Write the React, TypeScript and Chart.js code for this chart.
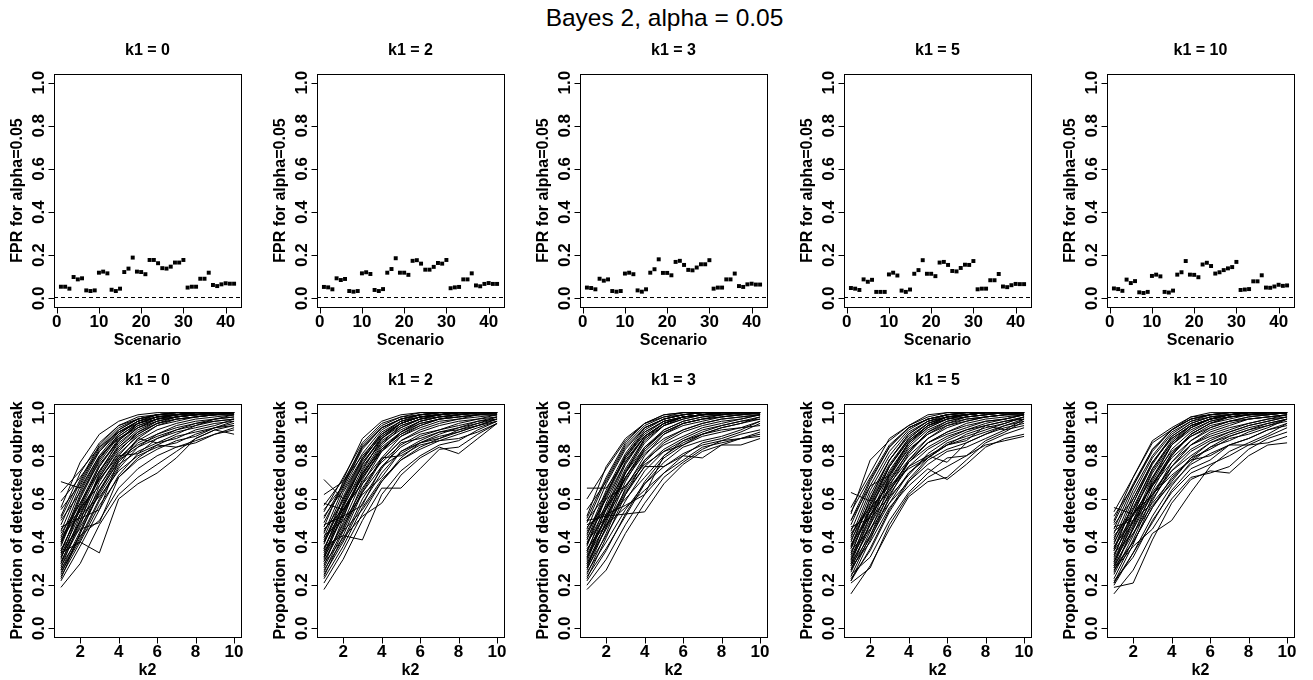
import React, { useEffect, useRef } from "react";
import { Chart, registerables } from "chart.js";

Chart.register(...registerables);

// ---------- text ----------
const mainTitle = "Bayes 2, alpha = 0.05";
const k1Labels = ["k1 = 0", "k1 = 2", "k1 = 3", "k1 = 5", "k1 = 10"];
const topXTitle = "Scenario";
const topYTitle = "FPR for alpha=0.05";
const bottomXTitle = "k2";
const bottomYTitle = "Proportion of detected oubreak";

// ---------- categories / ticks ----------
const scenarios = [1, 2, 3, 4, 5, 6, 7, 8, 9, 10, 11, 12, 13, 14, 15, 16, 17, 18, 19, 20, 21, 22, 23, 24, 25, 26, 27, 28, 29, 30, 31, 32, 33, 34, 35, 36, 37, 38, 39, 40, 41, 42];
const k2Values = [1, 2, 3, 4, 5, 6, 7, 8, 9, 10];
const scenarioTicks = [0, 10, 20, 30, 40];
const fprTicks = [0, 0.2, 0.4, 0.6, 0.8, 1.0];
const k2Ticks = [2, 4, 6, 8, 10];
const propTicks = [0, 0.2, 0.4, 0.6, 0.8, 1.0];
const fprReferenceLine = 0.005;

// ---------- FPR per scenario ----------
const fprK1_0 = [0.054, 0.054, 0.045, 0.099, 0.088, 0.093, 0.037, 0.034, 0.037, 0.119, 0.124, 0.116, 0.040, 0.034, 0.045, 0.122, 0.138, 0.189, 0.124, 0.122, 0.112, 0.178, 0.178, 0.163, 0.140, 0.138, 0.147, 0.166, 0.166, 0.178, 0.050, 0.054, 0.054, 0.091, 0.091, 0.119, 0.062, 0.057, 0.065, 0.070, 0.068, 0.068];
const fprK1_2 = [0.053, 0.051, 0.042, 0.093, 0.085, 0.090, 0.034, 0.031, 0.034, 0.116, 0.121, 0.113, 0.039, 0.034, 0.043, 0.119, 0.136, 0.186, 0.119, 0.119, 0.109, 0.174, 0.177, 0.161, 0.133, 0.133, 0.146, 0.164, 0.161, 0.178, 0.047, 0.051, 0.053, 0.088, 0.088, 0.116, 0.060, 0.056, 0.067, 0.071, 0.067, 0.067];
const fprK1_3 = [0.050, 0.048, 0.042, 0.091, 0.082, 0.088, 0.034, 0.031, 0.034, 0.115, 0.119, 0.112, 0.037, 0.031, 0.042, 0.119, 0.135, 0.181, 0.118, 0.118, 0.107, 0.169, 0.174, 0.155, 0.132, 0.130, 0.143, 0.158, 0.158, 0.177, 0.045, 0.050, 0.050, 0.088, 0.088, 0.115, 0.057, 0.053, 0.065, 0.068, 0.064, 0.064];
const fprK1_5 = [0.048, 0.045, 0.039, 0.088, 0.077, 0.086, 0.030, 0.030, 0.030, 0.111, 0.119, 0.106, 0.036, 0.030, 0.041, 0.114, 0.131, 0.177, 0.114, 0.114, 0.103, 0.166, 0.169, 0.155, 0.127, 0.125, 0.141, 0.156, 0.155, 0.173, 0.042, 0.045, 0.045, 0.084, 0.084, 0.113, 0.055, 0.052, 0.061, 0.067, 0.066, 0.066];
const fprK1_10 = [0.046, 0.043, 0.035, 0.087, 0.071, 0.080, 0.028, 0.025, 0.030, 0.104, 0.110, 0.102, 0.030, 0.027, 0.036, 0.110, 0.121, 0.173, 0.110, 0.109, 0.098, 0.157, 0.165, 0.150, 0.115, 0.121, 0.131, 0.139, 0.145, 0.169, 0.039, 0.041, 0.043, 0.079, 0.079, 0.107, 0.050, 0.049, 0.055, 0.063, 0.058, 0.060];

// ---------- proportion detected, one row per scenario, columns k2 = 1..10 ----------
const detK1_0 = [
  [0.45, 0.66, 0.82, 0.92, 0.97, 0.99, 1.00, 1.00, 1.00, 1.00],
  [0.38, 0.60, 0.78, 0.90, 0.96, 0.99, 0.99, 1.00, 1.00, 1.00],
  [0.52, 0.72, 0.86, 0.94, 0.98, 0.99, 1.00, 1.00, 1.00, 1.00],
  [0.30, 0.52, 0.71, 0.85, 0.93, 0.97, 0.99, 0.99, 1.00, 1.00],
  [0.27, 0.45, 0.66, 0.80, 0.90, 0.95, 0.98, 0.99, 1.00, 1.00],
  [0.56, 0.77, 0.90, 0.96, 0.99, 1.00, 1.00, 1.00, 1.00, 1.00],
  [0.42, 0.64, 0.80, 0.91, 0.96, 0.98, 0.99, 1.00, 1.00, 1.00],
  [0.35, 0.57, 0.75, 0.88, 0.94, 0.97, 0.99, 1.00, 1.00, 1.00],
  [0.33, 0.50, 0.70, 0.84, 0.92, 0.96, 0.98, 0.99, 0.99, 1.00],
  [0.48, 0.68, 0.84, 0.93, 0.97, 0.99, 1.00, 1.00, 1.00, 1.00],
  [0.40, 0.62, 0.77, 0.89, 0.95, 0.98, 0.99, 1.00, 1.00, 1.00],
  [0.25, 0.44, 0.63, 0.78, 0.88, 0.94, 0.97, 0.98, 0.99, 1.00],
  [0.59, 0.70, 0.82, 0.91, 0.96, 0.98, 0.99, 1.00, 1.00, 1.00],
  [0.36, 0.55, 0.73, 0.86, 0.93, 0.97, 0.98, 0.99, 1.00, 1.00],
  [0.44, 0.58, 0.76, 0.87, 0.94, 0.97, 0.99, 0.99, 1.00, 1.00],
  [0.31, 0.48, 0.68, 0.82, 0.91, 0.96, 0.98, 0.99, 1.00, 1.00],
  [0.50, 0.63, 0.79, 0.89, 0.95, 0.98, 0.99, 1.00, 1.00, 1.00],
  [0.28, 0.50, 0.72, 0.87, 0.95, 0.98, 0.99, 1.00, 1.00, 1.00],
  [0.41, 0.58, 0.73, 0.84, 0.91, 0.95, 0.97, 0.98, 0.99, 0.99],
  [0.46, 0.54, 0.69, 0.81, 0.89, 0.94, 0.96, 0.98, 0.99, 0.99],
  [0.34, 0.53, 0.70, 0.83, 0.90, 0.95, 0.97, 0.98, 0.99, 1.00],
  [0.55, 0.67, 0.83, 0.92, 0.97, 0.99, 1.00, 1.00, 1.00, 1.00],
  [0.39, 0.61, 0.79, 0.90, 0.96, 0.99, 0.99, 1.00, 1.00, 1.00],
  [0.32, 0.56, 0.75, 0.87, 0.95, 0.98, 0.99, 1.00, 1.00, 1.00],
  [0.26, 0.41, 0.59, 0.74, 0.84, 0.90, 0.94, 0.96, 0.97, 0.98],
  [0.22, 0.38, 0.55, 0.71, 0.81, 0.88, 0.92, 0.95, 0.96, 0.97],
  [0.68, 0.65, 0.80, 0.88, 0.93, 0.96, 0.98, 0.99, 0.99, 1.00],
  [0.63, 0.73, 0.84, 0.91, 0.95, 0.97, 0.98, 0.99, 1.00, 1.00],
  [0.19, 0.30, 0.48, 0.62, 0.70, 0.76, 0.82, 0.88, 0.92, 0.94],
  [0.35, 0.40, 0.35, 0.60, 0.67, 0.72, 0.79, 0.88, 0.92, 0.90],
  [0.29, 0.43, 0.50, 0.65, 0.74, 0.80, 0.84, 0.86, 0.90, 0.92],
  [0.37, 0.46, 0.49, 0.70, 0.78, 0.83, 0.87, 0.89, 0.93, 0.95],
  [0.43, 0.52, 0.61, 0.73, 0.80, 0.84, 0.86, 0.90, 0.93, 0.94],
  [0.24, 0.40, 0.57, 0.70, 0.79, 0.85, 0.89, 0.91, 0.93, 0.96],
  [0.30, 0.47, 0.62, 0.76, 0.82, 0.86, 0.88, 0.92, 0.94, 0.97],
  [0.47, 0.51, 0.55, 0.78, 0.84, 0.88, 0.91, 0.93, 0.95, 0.96],
  [0.33, 0.49, 0.64, 0.77, 0.86, 0.90, 0.93, 0.95, 0.97, 0.98],
  [0.27, 0.42, 0.60, 0.75, 0.88, 0.86, 0.90, 0.94, 0.96, 0.97],
  [0.36, 0.55, 0.69, 0.80, 0.81, 0.85, 0.84, 0.87, 0.90, 0.93],
  [0.40, 0.56, 0.66, 0.79, 0.85, 0.89, 0.92, 0.94, 0.97, 0.99],
  [0.23, 0.44, 0.64, 0.79, 0.87, 0.92, 0.95, 0.97, 0.98, 0.99],
  [0.51, 0.69, 0.85, 0.94, 0.97, 0.99, 1.00, 1.00, 1.00, 1.00],
];

const detK1_2 = [
  [0.47, 0.68, 0.84, 0.93, 0.97, 0.99, 1.00, 1.00, 1.00, 1.00],
  [0.40, 0.61, 0.79, 0.91, 0.96, 0.99, 0.99, 1.00, 1.00, 1.00],
  [0.54, 0.70, 0.86, 0.95, 0.98, 1.00, 1.00, 1.00, 1.00, 1.00],
  [0.32, 0.54, 0.72, 0.86, 0.94, 0.97, 0.99, 1.00, 1.00, 1.00],
  [0.28, 0.46, 0.67, 0.82, 0.91, 0.96, 0.98, 0.99, 1.00, 1.00],
  [0.57, 0.69, 0.88, 0.96, 0.99, 1.00, 1.00, 1.00, 1.00, 1.00],
  [0.44, 0.65, 0.81, 0.92, 0.97, 0.99, 1.00, 1.00, 1.00, 1.00],
  [0.36, 0.58, 0.76, 0.89, 0.95, 0.98, 0.99, 1.00, 1.00, 1.00],
  [0.34, 0.52, 0.71, 0.85, 0.93, 0.97, 0.98, 0.99, 1.00, 1.00],
  [0.49, 0.66, 0.83, 0.93, 0.97, 0.99, 1.00, 1.00, 1.00, 1.00],
  [0.42, 0.63, 0.78, 0.90, 0.95, 0.98, 0.99, 1.00, 1.00, 1.00],
  [0.26, 0.45, 0.64, 0.79, 0.89, 0.94, 0.97, 0.98, 0.99, 1.00],
  [0.62, 0.68, 0.80, 0.90, 0.96, 0.98, 0.99, 1.00, 1.00, 1.00],
  [0.37, 0.56, 0.74, 0.87, 0.93, 0.97, 0.99, 0.99, 1.00, 1.00],
  [0.45, 0.59, 0.77, 0.88, 0.94, 0.97, 0.99, 1.00, 1.00, 1.00],
  [0.31, 0.49, 0.69, 0.83, 0.91, 0.96, 0.98, 0.99, 1.00, 1.00],
  [0.52, 0.64, 0.79, 0.89, 0.95, 0.98, 0.99, 1.00, 1.00, 1.00],
  [0.29, 0.51, 0.73, 0.88, 0.95, 0.98, 0.99, 1.00, 1.00, 1.00],
  [0.41, 0.57, 0.72, 0.83, 0.90, 0.94, 0.97, 0.98, 0.99, 0.99],
  [0.46, 0.55, 0.70, 0.82, 0.89, 0.93, 0.96, 0.97, 0.99, 0.99],
  [0.35, 0.53, 0.71, 0.84, 0.91, 0.95, 0.97, 0.98, 0.99, 1.00],
  [0.55, 0.66, 0.84, 0.93, 0.97, 0.99, 1.00, 1.00, 1.00, 1.00],
  [0.39, 0.60, 0.78, 0.90, 0.96, 0.98, 0.99, 1.00, 1.00, 1.00],
  [0.33, 0.57, 0.76, 0.88, 0.95, 0.98, 0.99, 1.00, 1.00, 1.00],
  [0.25, 0.40, 0.58, 0.72, 0.82, 0.87, 0.91, 0.92, 0.95, 0.97],
  [0.21, 0.36, 0.53, 0.68, 0.79, 0.86, 0.89, 0.91, 0.94, 0.96],
  [0.69, 0.60, 0.75, 0.86, 0.92, 0.96, 0.98, 0.99, 1.00, 1.00],
  [0.58, 0.55, 0.70, 0.83, 0.90, 0.95, 0.97, 0.99, 0.99, 1.00],
  [0.18, 0.32, 0.50, 0.65, 0.65, 0.74, 0.83, 0.84, 0.90, 0.95],
  [0.38, 0.43, 0.41, 0.62, 0.73, 0.80, 0.85, 0.87, 0.92, 0.96],
  [0.30, 0.42, 0.52, 0.58, 0.71, 0.79, 0.84, 0.81, 0.88, 0.95],
  [0.36, 0.45, 0.55, 0.68, 0.78, 0.83, 0.87, 0.90, 0.93, 0.96],
  [0.43, 0.50, 0.62, 0.70, 0.82, 0.86, 0.88, 0.91, 0.94, 0.97],
  [0.23, 0.38, 0.56, 0.69, 0.78, 0.84, 0.88, 0.92, 0.94, 0.97],
  [0.31, 0.47, 0.63, 0.75, 0.81, 0.86, 0.90, 0.93, 0.95, 0.98],
  [0.48, 0.52, 0.57, 0.75, 0.84, 0.89, 0.92, 0.94, 0.96, 0.97],
  [0.33, 0.48, 0.65, 0.78, 0.87, 0.91, 0.94, 0.96, 0.97, 0.98],
  [0.27, 0.41, 0.60, 0.74, 0.86, 0.88, 0.91, 0.93, 0.96, 0.98],
  [0.37, 0.54, 0.68, 0.79, 0.80, 0.85, 0.87, 0.88, 0.91, 0.95],
  [0.40, 0.55, 0.67, 0.77, 0.85, 0.90, 0.92, 0.95, 0.97, 0.99],
  [0.24, 0.43, 0.63, 0.78, 0.87, 0.92, 0.95, 0.97, 0.98, 0.99],
  [0.51, 0.67, 0.85, 0.94, 0.98, 0.99, 1.00, 1.00, 1.00, 1.00],
];

const detK1_3 = [
  [0.46, 0.67, 0.83, 0.93, 0.97, 0.99, 1.00, 1.00, 1.00, 1.00],
  [0.39, 0.62, 0.80, 0.92, 0.97, 0.99, 1.00, 1.00, 1.00, 1.00],
  [0.52, 0.75, 0.88, 0.95, 0.99, 1.00, 1.00, 1.00, 1.00, 1.00],
  [0.31, 0.53, 0.73, 0.87, 0.94, 0.98, 0.99, 1.00, 1.00, 1.00],
  [0.27, 0.47, 0.68, 0.83, 0.92, 0.96, 0.98, 0.99, 1.00, 1.00],
  [0.60, 0.74, 0.87, 0.95, 0.99, 1.00, 1.00, 1.00, 1.00, 1.00],
  [0.43, 0.64, 0.81, 0.93, 0.97, 0.99, 1.00, 1.00, 1.00, 1.00],
  [0.35, 0.58, 0.77, 0.89, 0.95, 0.98, 0.99, 1.00, 1.00, 1.00],
  [0.33, 0.51, 0.72, 0.86, 0.94, 0.97, 0.99, 0.99, 1.00, 1.00],
  [0.49, 0.69, 0.85, 0.94, 0.98, 0.99, 1.00, 1.00, 1.00, 1.00],
  [0.41, 0.63, 0.79, 0.90, 0.96, 0.98, 0.99, 1.00, 1.00, 1.00],
  [0.25, 0.44, 0.65, 0.80, 0.90, 0.95, 0.97, 0.99, 0.99, 1.00],
  [0.65, 0.65, 0.78, 0.89, 0.95, 0.98, 0.99, 1.00, 1.00, 1.00],
  [0.36, 0.55, 0.74, 0.88, 0.94, 0.97, 0.99, 0.99, 1.00, 1.00],
  [0.44, 0.60, 0.77, 0.89, 0.95, 0.98, 0.99, 1.00, 1.00, 1.00],
  [0.30, 0.49, 0.70, 0.84, 0.92, 0.96, 0.98, 0.99, 1.00, 1.00],
  [0.50, 0.62, 0.80, 0.91, 0.96, 0.98, 0.99, 1.00, 1.00, 1.00],
  [0.28, 0.50, 0.72, 0.88, 0.95, 0.98, 0.99, 1.00, 1.00, 1.00],
  [0.42, 0.57, 0.72, 0.84, 0.91, 0.95, 0.97, 0.98, 0.99, 1.00],
  [0.47, 0.55, 0.70, 0.82, 0.90, 0.94, 0.96, 0.98, 0.99, 0.99],
  [0.34, 0.52, 0.70, 0.83, 0.91, 0.95, 0.97, 0.98, 0.99, 1.00],
  [0.55, 0.68, 0.84, 0.93, 0.97, 0.99, 1.00, 1.00, 1.00, 1.00],
  [0.38, 0.61, 0.79, 0.91, 0.96, 0.98, 0.99, 1.00, 1.00, 1.00],
  [0.32, 0.56, 0.76, 0.89, 0.95, 0.98, 0.99, 1.00, 1.00, 1.00],
  [0.24, 0.37, 0.52, 0.67, 0.75, 0.81, 0.85, 0.87, 0.88, 0.90],
  [0.20, 0.32, 0.48, 0.62, 0.72, 0.78, 0.84, 0.86, 0.88, 0.89],
  [0.50, 0.52, 0.53, 0.54, 0.67, 0.76, 0.82, 0.85, 0.85, 0.88],
  [0.29, 0.47, 0.63, 0.75, 0.75, 0.80, 0.79, 0.85, 0.88, 0.91],
  [0.18, 0.27, 0.44, 0.58, 0.70, 0.77, 0.83, 0.87, 0.90, 0.92],
  [0.37, 0.48, 0.56, 0.64, 0.72, 0.80, 0.86, 0.88, 0.91, 0.95],
  [0.26, 0.40, 0.55, 0.67, 0.77, 0.84, 0.87, 0.89, 0.92, 0.96],
  [0.36, 0.51, 0.60, 0.70, 0.80, 0.86, 0.90, 0.93, 0.95, 0.97],
  [0.45, 0.60, 0.66, 0.76, 0.82, 0.85, 0.89, 0.91, 0.93, 0.96],
  [0.22, 0.36, 0.53, 0.68, 0.79, 0.85, 0.90, 0.93, 0.95, 0.98],
  [0.30, 0.46, 0.62, 0.75, 0.83, 0.88, 0.92, 0.94, 0.96, 0.98],
  [0.48, 0.53, 0.57, 0.62, 0.80, 0.87, 0.91, 0.94, 0.96, 0.97],
  [0.33, 0.48, 0.64, 0.77, 0.86, 0.91, 0.94, 0.96, 0.97, 0.99],
  [0.28, 0.43, 0.59, 0.73, 0.82, 0.87, 0.90, 0.92, 0.93, 0.94],
  [0.39, 0.56, 0.69, 0.81, 0.88, 0.92, 0.95, 0.97, 0.98, 0.99],
  [0.40, 0.52, 0.66, 0.78, 0.85, 0.89, 0.93, 0.95, 0.97, 0.99],
  [0.23, 0.42, 0.62, 0.78, 0.87, 0.92, 0.95, 0.97, 0.98, 0.99],
  [0.51, 0.70, 0.86, 0.95, 0.98, 1.00, 1.00, 1.00, 1.00, 1.00],
];

const detK1_5 = [
  [0.45, 0.66, 0.82, 0.92, 0.97, 0.99, 1.00, 1.00, 1.00, 1.00],
  [0.38, 0.60, 0.78, 0.90, 0.96, 0.98, 0.99, 1.00, 1.00, 1.00],
  [0.53, 0.78, 0.87, 0.94, 0.98, 1.00, 1.00, 1.00, 1.00, 1.00],
  [0.30, 0.52, 0.72, 0.86, 0.94, 0.97, 0.99, 1.00, 1.00, 1.00],
  [0.26, 0.45, 0.66, 0.81, 0.91, 0.96, 0.98, 0.99, 1.00, 1.00],
  [0.56, 0.72, 0.88, 0.94, 0.99, 1.00, 1.00, 1.00, 1.00, 1.00],
  [0.42, 0.64, 0.80, 0.91, 0.96, 0.99, 0.99, 1.00, 1.00, 1.00],
  [0.34, 0.57, 0.75, 0.88, 0.95, 0.98, 0.99, 1.00, 1.00, 1.00],
  [0.32, 0.50, 0.70, 0.84, 0.92, 0.96, 0.98, 0.99, 1.00, 1.00],
  [0.48, 0.68, 0.84, 0.93, 0.97, 0.99, 1.00, 1.00, 1.00, 1.00],
  [0.40, 0.62, 0.78, 0.89, 0.95, 0.98, 0.99, 1.00, 1.00, 1.00],
  [0.24, 0.43, 0.63, 0.78, 0.88, 0.94, 0.97, 0.98, 0.99, 1.00],
  [0.63, 0.59, 0.76, 0.88, 0.95, 0.98, 0.99, 1.00, 1.00, 1.00],
  [0.35, 0.55, 0.73, 0.86, 0.93, 0.97, 0.98, 0.99, 1.00, 1.00],
  [0.43, 0.58, 0.75, 0.87, 0.94, 0.97, 0.99, 1.00, 1.00, 1.00],
  [0.29, 0.48, 0.68, 0.82, 0.91, 0.95, 0.98, 0.99, 1.00, 1.00],
  [0.50, 0.66, 0.71, 0.85, 0.93, 0.97, 0.99, 1.00, 1.00, 1.00],
  [0.27, 0.49, 0.71, 0.86, 0.94, 0.98, 0.99, 1.00, 1.00, 1.00],
  [0.41, 0.57, 0.71, 0.83, 0.90, 0.94, 0.96, 0.98, 0.99, 0.99],
  [0.46, 0.54, 0.68, 0.80, 0.88, 0.93, 0.96, 0.98, 0.99, 0.99],
  [0.33, 0.52, 0.69, 0.82, 0.90, 0.95, 0.97, 0.98, 0.99, 1.00],
  [0.54, 0.70, 0.85, 0.93, 0.97, 0.99, 1.00, 1.00, 1.00, 1.00],
  [0.37, 0.60, 0.78, 0.90, 0.96, 0.98, 0.99, 1.00, 1.00, 1.00],
  [0.31, 0.55, 0.75, 0.87, 0.94, 0.98, 0.99, 1.00, 1.00, 1.00],
  [0.23, 0.36, 0.54, 0.68, 0.76, 0.82, 0.84, 0.88, 0.92, 0.94],
  [0.21, 0.28, 0.48, 0.62, 0.70, 0.75, 0.80, 0.85, 0.87, 0.89],
  [0.16, 0.29, 0.46, 0.61, 0.68, 0.70, 0.78, 0.86, 0.90, 0.93],
  [0.28, 0.40, 0.56, 0.66, 0.74, 0.69, 0.76, 0.84, 0.88, 0.90],
  [0.25, 0.33, 0.50, 0.63, 0.72, 0.79, 0.80, 0.87, 0.91, 0.96],
  [0.36, 0.46, 0.58, 0.68, 0.78, 0.83, 0.86, 0.90, 0.93, 0.95],
  [0.29, 0.43, 0.60, 0.72, 0.79, 0.85, 0.87, 0.94, 0.92, 0.97],
  [0.37, 0.53, 0.64, 0.75, 0.80, 0.85, 0.88, 0.91, 0.94, 0.97],
  [0.44, 0.56, 0.66, 0.74, 0.79, 0.86, 0.89, 0.92, 0.95, 0.98],
  [0.22, 0.37, 0.55, 0.69, 0.79, 0.85, 0.90, 0.93, 0.95, 0.98],
  [0.30, 0.46, 0.62, 0.75, 0.83, 0.88, 0.92, 0.94, 0.96, 0.98],
  [0.47, 0.51, 0.61, 0.71, 0.81, 0.87, 0.91, 0.94, 0.96, 0.97],
  [0.32, 0.48, 0.64, 0.77, 0.86, 0.91, 0.94, 0.96, 0.97, 0.99],
  [0.27, 0.42, 0.58, 0.72, 0.80, 0.77, 0.86, 0.90, 0.94, 0.96],
  [0.38, 0.55, 0.67, 0.78, 0.86, 0.90, 0.93, 0.96, 0.97, 0.99],
  [0.39, 0.52, 0.65, 0.77, 0.84, 0.89, 0.92, 0.95, 0.97, 0.99],
  [0.22, 0.41, 0.61, 0.77, 0.86, 0.91, 0.95, 0.97, 0.98, 0.99],
  [0.50, 0.69, 0.84, 0.93, 0.97, 0.99, 1.00, 1.00, 1.00, 1.00],
];

const detK1_10 = [
  [0.44, 0.64, 0.80, 0.91, 0.96, 0.99, 0.99, 1.00, 1.00, 1.00],
  [0.37, 0.58, 0.76, 0.89, 0.95, 0.98, 0.99, 1.00, 1.00, 1.00],
  [0.50, 0.70, 0.87, 0.93, 0.98, 0.99, 1.00, 1.00, 1.00, 1.00],
  [0.29, 0.50, 0.70, 0.85, 0.93, 0.97, 0.99, 0.99, 1.00, 1.00],
  [0.25, 0.43, 0.64, 0.80, 0.90, 0.95, 0.98, 0.99, 1.00, 1.00],
  [0.54, 0.70, 0.86, 0.92, 0.98, 1.00, 1.00, 1.00, 1.00, 1.00],
  [0.41, 0.62, 0.79, 0.90, 0.96, 0.98, 0.99, 1.00, 1.00, 1.00],
  [0.33, 0.55, 0.74, 0.87, 0.94, 0.97, 0.99, 1.00, 1.00, 1.00],
  [0.31, 0.48, 0.68, 0.83, 0.91, 0.96, 0.98, 0.99, 0.99, 1.00],
  [0.46, 0.66, 0.82, 0.92, 0.97, 0.99, 1.00, 1.00, 1.00, 1.00],
  [0.39, 0.60, 0.77, 0.88, 0.94, 0.97, 0.99, 1.00, 1.00, 1.00],
  [0.23, 0.41, 0.61, 0.77, 0.87, 0.93, 0.96, 0.98, 0.99, 1.00],
  [0.56, 0.53, 0.66, 0.80, 0.90, 0.95, 0.98, 0.99, 1.00, 1.00],
  [0.34, 0.53, 0.72, 0.85, 0.92, 0.96, 0.98, 0.99, 1.00, 1.00],
  [0.42, 0.56, 0.74, 0.86, 0.93, 0.97, 0.98, 0.99, 1.00, 1.00],
  [0.28, 0.46, 0.66, 0.81, 0.90, 0.95, 0.97, 0.99, 0.99, 1.00],
  [0.48, 0.60, 0.77, 0.88, 0.94, 0.97, 0.99, 1.00, 1.00, 1.00],
  [0.26, 0.47, 0.69, 0.85, 0.93, 0.97, 0.99, 1.00, 1.00, 1.00],
  [0.40, 0.55, 0.70, 0.82, 0.89, 0.93, 0.96, 0.97, 0.98, 0.99],
  [0.45, 0.52, 0.67, 0.79, 0.87, 0.92, 0.95, 0.97, 0.98, 0.99],
  [0.32, 0.50, 0.67, 0.81, 0.89, 0.94, 0.96, 0.98, 0.99, 1.00],
  [0.52, 0.66, 0.83, 0.92, 0.97, 0.99, 1.00, 1.00, 1.00, 1.00],
  [0.36, 0.58, 0.77, 0.89, 0.95, 0.98, 0.99, 1.00, 1.00, 1.00],
  [0.30, 0.53, 0.73, 0.86, 0.94, 0.97, 0.99, 1.00, 1.00, 1.00],
  [0.22, 0.33, 0.50, 0.63, 0.72, 0.76, 0.80, 0.85, 0.86, 0.89],
  [0.19, 0.21, 0.41, 0.58, 0.69, 0.73, 0.72, 0.80, 0.85, 0.86],
  [0.16, 0.27, 0.44, 0.50, 0.63, 0.75, 0.82, 0.86, 0.90, 0.95],
  [0.27, 0.38, 0.46, 0.60, 0.70, 0.72, 0.75, 0.83, 0.88, 0.91],
  [0.20, 0.35, 0.49, 0.64, 0.74, 0.78, 0.85, 0.85, 0.89, 0.93],
  [0.35, 0.44, 0.57, 0.67, 0.76, 0.81, 0.85, 0.88, 0.92, 0.95],
  [0.28, 0.40, 0.56, 0.68, 0.79, 0.83, 0.88, 0.90, 0.93, 0.97],
  [0.36, 0.49, 0.62, 0.71, 0.78, 0.84, 0.87, 0.91, 0.94, 0.97],
  [0.43, 0.53, 0.62, 0.73, 0.80, 0.86, 0.89, 0.92, 0.94, 0.96],
  [0.21, 0.35, 0.52, 0.66, 0.77, 0.84, 0.89, 0.92, 0.95, 0.97],
  [0.29, 0.44, 0.60, 0.73, 0.82, 0.87, 0.91, 0.94, 0.96, 0.98],
  [0.47, 0.50, 0.58, 0.69, 0.79, 0.86, 0.90, 0.93, 0.95, 0.97],
  [0.31, 0.46, 0.62, 0.75, 0.85, 0.90, 0.93, 0.95, 0.97, 0.98],
  [0.27, 0.40, 0.56, 0.70, 0.78, 0.80, 0.85, 0.88, 0.92, 0.94],
  [0.37, 0.53, 0.66, 0.77, 0.85, 0.89, 0.92, 0.95, 0.97, 0.99],
  [0.38, 0.50, 0.63, 0.75, 0.83, 0.88, 0.91, 0.94, 0.96, 0.98],
  [0.21, 0.39, 0.59, 0.75, 0.85, 0.91, 0.94, 0.97, 0.98, 0.99],
  [0.49, 0.67, 0.83, 0.92, 0.97, 0.99, 1.00, 1.00, 1.00, 1.00],
];

const fprPanels = [fprK1_0, fprK1_2, fprK1_3, fprK1_5, fprK1_10];
const detPanels = [detK1_0, detK1_2, detK1_3, detK1_5, detK1_10];

// ---------- layout ----------
const FIG_W = 1313;
const FIG_H = 680;
const CELL_STEP = 263.2;
const CANVAS_W = 263;
const CANVAS_H = 320;
const ROW_TOPS = [30, 360];
const PAD = { left: 54, right: CANVAS_W - 241, top: 44, bottom: 43 };
const FONT = '"Liberation Sans", Arial, Helvetica, sans-serif';
const TICK_PX = 17;
const LAB_PX = 16;

type AxisCfg = {
  title: string;
  xTitle: string;
  yTitle: string;
  xTicks: number[];
  yTicks: number[];
  refLine?: number;
};

function rAxesPlugin(cfg: AxisCfg) {
  return {
    id: "rAxes",
    beforeDatasetsDraw(chart: any) {
      if (cfg.refLine === undefined) return;
      const { ctx, chartArea: a, scales } = chart;
      const py = Math.round(scales.y.getPixelForValue(cfg.refLine)) + 0.5;
      ctx.save();
      ctx.strokeStyle = "#000";
      ctx.lineWidth = 1;
      ctx.setLineDash([4, 3]);
      ctx.beginPath();
      ctx.moveTo(a.left, py);
      ctx.lineTo(a.right, py);
      ctx.stroke();
      ctx.restore();
    },
    afterDraw(chart: any) {
      const { ctx, chartArea: a, scales } = chart;
      const xs = scales.x;
      const ys = scales.y;
      ctx.save();
      ctx.strokeStyle = "#000";
      ctx.fillStyle = "#000";
      ctx.lineWidth = 1;
      const L = Math.round(a.left) + 0.5;
      const R = Math.round(a.right) + 0.5;
      const T = Math.round(a.top) + 0.5;
      const B = Math.round(a.bottom) + 0.5;
      ctx.strokeRect(L, T, R - L, B - T);

      ctx.beginPath();
      cfg.xTicks.forEach((t) => {
        const px = Math.round(xs.getPixelForValue(t)) + 0.5;
        ctx.moveTo(px, B);
        ctx.lineTo(px, B + 6);
      });
      cfg.yTicks.forEach((t) => {
        const py = Math.round(ys.getPixelForValue(t)) + 0.5;
        ctx.moveTo(L, py);
        ctx.lineTo(L - 6, py);
      });
      ctx.stroke();

      ctx.textAlign = "center";
      ctx.textBaseline = "middle";
      ctx.font = `bold ${TICK_PX}px ${FONT}`;
      cfg.xTicks.forEach((t) => {
        ctx.fillText(String(t), xs.getPixelForValue(t), a.bottom + 15);
      });
      cfg.yTicks.forEach((t) => {
        ctx.save();
        ctx.translate(a.left - 15, ys.getPixelForValue(t));
        ctx.rotate(-Math.PI / 2);
        ctx.fillText(t.toFixed(1), 0, 0);
        ctx.restore();
      });

      ctx.font = `bold ${LAB_PX}px ${FONT}`;
      ctx.fillText(cfg.xTitle, (a.left + a.right) / 2, a.bottom + 34);
      ctx.save();
      ctx.translate(a.left - 36, (a.top + a.bottom) / 2);
      ctx.rotate(-Math.PI / 2);
      ctx.fillText(cfg.yTitle, 0, 0);
      ctx.restore();

      ctx.fillText(cfg.title, (a.left + a.right) / 2, a.top - 23);
      ctx.restore();
    },
  };
}

function baseOptions(xMin: number, xMax: number) {
  return {
    responsive: false,
    animation: false as const,
    devicePixelRatio: 1,
    layout: { padding: PAD },
    plugins: { legend: { display: false }, tooltip: { enabled: false }, title: { display: false } },
    scales: {
      x: { type: "linear" as const, min: xMin, max: xMax, display: false },
      y: { type: "linear" as const, min: -0.04, max: 1.04, display: false },
    },
    events: [] as any[],
  };
}

function makeTopChart(canvas: HTMLCanvasElement, i: number) {
  const values = fprPanels[i];
  return new Chart(canvas, {
    type: "scatter",
    data: {
      datasets: [
        {
          data: scenarios.map((s, j) => ({ x: s, y: values[j] })),
          pointStyle: "rect",
          pointRadius: 2.8,
          backgroundColor: "#000",
          borderColor: "#000",
          borderWidth: 0,
        },
      ],
    },
    options: baseOptions(-0.64, 43.64) as any,
    plugins: [
      rAxesPlugin({
        title: k1Labels[i],
        xTitle: topXTitle,
        yTitle: topYTitle,
        xTicks: scenarioTicks,
        yTicks: fprTicks,
        refLine: fprReferenceLine,
      }),
    ],
  });
}

function makeBottomChart(canvas: HTMLCanvasElement, i: number) {
  const rows = detPanels[i];
  return new Chart(canvas, {
    type: "scatter",
    data: {
      datasets: rows.map((row) => ({
        data: k2Values.map((k, j) => ({ x: k, y: row[j] })),
        showLine: true,
        pointRadius: 0,
        borderColor: "#000",
        borderWidth: 1,
        tension: 0,
      })),
    },
    options: baseOptions(0.64, 10.36) as any,
    plugins: [
      rAxesPlugin({
        title: k1Labels[i],
        xTitle: bottomXTitle,
        yTitle: bottomYTitle,
        xTicks: k2Ticks,
        yTicks: propTicks,
      }),
    ],
  });
}

export default function App() {
  const topRefs = useRef<(HTMLCanvasElement | null)[]>([]);
  const botRefs = useRef<(HTMLCanvasElement | null)[]>([]);

  useEffect(() => {
    const charts: Chart[] = [];
    for (let i = 0; i < 5; i++) {
      const t = topRefs.current[i];
      const b = botRefs.current[i];
      if (t) charts.push(makeTopChart(t, i));
      if (b) charts.push(makeBottomChart(b, i));
    }
    return () => charts.forEach((c) => c.destroy());
  }, []);

  const cells = [0, 1, 2, 3, 4];
  return (
    <div
      style={{
        position: "absolute",
        left: 0,
        top: 0,
        width: FIG_W,
        height: FIG_H,
        background: "#fff",
        overflow: "hidden",
      }}
    >
      <div
        style={{
          position: "absolute",
          left: 8,
          top: 4,
          width: FIG_W,
          textAlign: "center",
          fontFamily: FONT,
          fontSize: 24.5,
          lineHeight: "28px",
          color: "#000",
        }}
      >
        {mainTitle}
      </div>
      {cells.map((i) => (
        <canvas
          key={"t" + i}
          ref={(el) => {
            topRefs.current[i] = el;
          }}
          width={CANVAS_W}
          height={CANVAS_H}
          style={{
            position: "absolute",
            left: Math.round(i * CELL_STEP),
            top: ROW_TOPS[0],
            width: CANVAS_W,
            height: CANVAS_H,
          }}
        />
      ))}
      {cells.map((i) => (
        <canvas
          key={"b" + i}
          ref={(el) => {
            botRefs.current[i] = el;
          }}
          width={CANVAS_W}
          height={CANVAS_H}
          style={{
            position: "absolute",
            left: Math.round(i * CELL_STEP),
            top: ROW_TOPS[1],
            width: CANVAS_W,
            height: CANVAS_H,
          }}
        />
      ))}
    </div>
  );
}
